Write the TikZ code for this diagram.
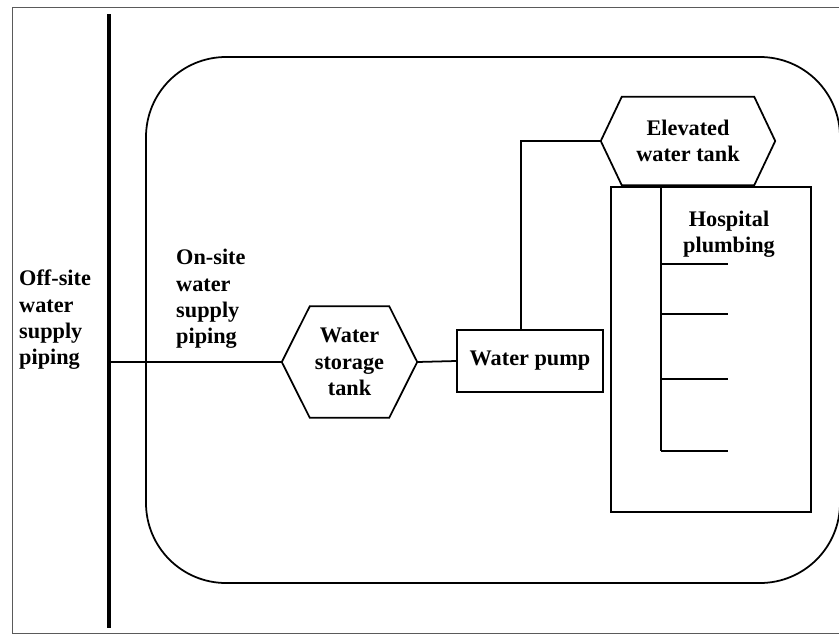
\documentclass[tikz,border=0pt]{standalone}
\usepackage{fontspec}
\setmainfont{Liberation Serif}
\usetikzlibrary{calc}
\definecolor{frame}{HTML}{5A5A5A}
\newcommand{\tankoutline}[2]{\draw[pipe] (#1.west) -- ([xshift=#2]#1.north west) -- ([xshift=-#2]#1.north east) -- (#1.east) -- ([xshift=-#2]#1.south east) -- ([xshift=#2]#1.south west) -- cycle;}

\begin{document}
\begin{tikzpicture}[x=0.03cm,y=-0.03cm,
    txt/.style={font=\bfseries\fontsize{19}{22.5}\selectfont,inner sep=0pt},
    pipe/.style={line width=1.5pt,line join=miter},
    tankbox/.style={txt,align=center},
    pumpbox/.style={txt,draw,line width=1.5pt,minimum width=4.38cm,minimum height=1.86cm}]
    \useasboundingbox (0,0) rectangle (839,634);
    \draw[frame,line width=0.8pt] (839,7) -- (12,7) -- (12,633) -- (839,633);
    \draw[line width=1.5pt,rounded corners=2.4cm] (146,57) rectangle (840,583);
    \coordinate (mainN) at (109,14);
    \coordinate (mainS) at (109,628);
    \draw[line width=4.2pt] (mainN) -- (mainS);
    \node[txt,align=left,anchor=west] (offsite) at (19,320) {Off-site\\water\\supply\\piping};
    \node[txt,align=left,anchor=west] (onsite) at (176,299) {On-site\\water\\supply\\piping};
    \node[tankbox,minimum width=4.05cm,minimum height=3.33cm] (store) at (349.5,362) {Water\\storage\\tank};
    \tankoutline{store}{0.84cm}
    \node[pumpbox] (pump) at (530,361) {Water pump};
    \node[tankbox,minimum width=5.22cm,minimum height=2.64cm] (elev) at (688,141) {Elevated\\water tank};
    \tankoutline{elev}{0.63cm}
    \node[draw,line width=1.5pt,minimum width=6cm,minimum height=9.75cm] (hosp) at (711,349.5) {};
    \node[txt,align=center] (hosptxt) at (729,234) {Hospital\\plumbing};
    \draw[pipe] (store.west) -- (store.west -| mainN);
    \draw[pipe] (store.east) -- (pump.west);
    \draw[pipe] ([xshift=-0.27cm]pump.north) |- (elev.west);
    \coordinate (riserS) at (661,451);
    \draw[line width=1pt] (hosp.north -| riserS) -- (riserS);
    \foreach \y in {264,314,379,451} {
      \coordinate (tap\y) at (728,\y);
      \draw[line width=1pt] (riserS |- tap\y) -- (tap\y);
    }
  \end{tikzpicture}
\end{document}
